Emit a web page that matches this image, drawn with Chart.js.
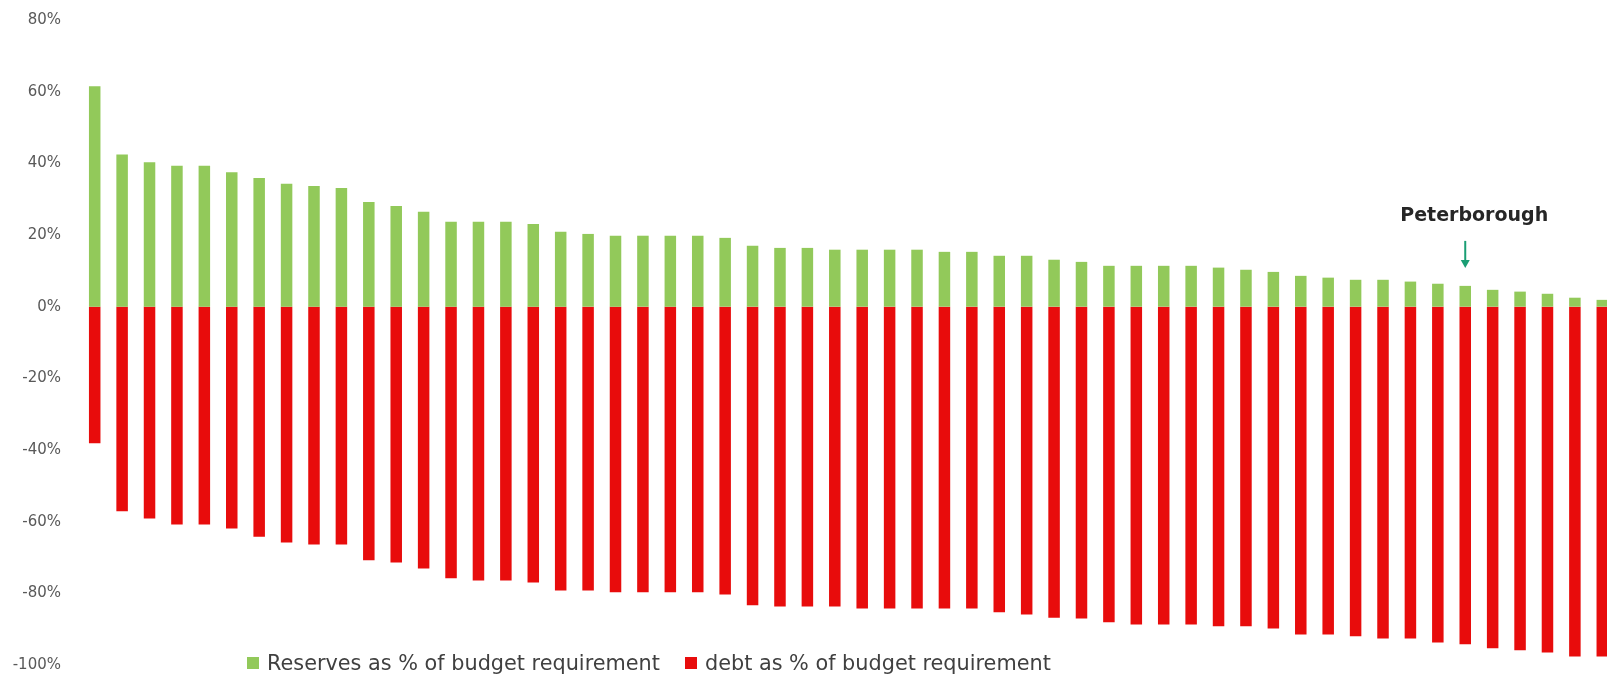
<!DOCTYPE html>
<html>
<head>
<meta charset="utf-8">
<script src="https://cdn.jsdelivr.net/npm/chart.js@4.4.1/dist/chart.umd.min.js"></script>
<style>
  html, body { margin: 0; padding: 0; background: #fff; overflow: hidden; }
  #wrap { position: relative; width: 1616px; height: 677px; }
  #chart { display: block; }
  #legend {
    position: absolute; left: 247px; top: 651px;
    font-family: "DejaVu Sans", sans-serif; font-size: 20.8px; color: #404040;
    display: flex; align-items: center; white-space: nowrap;
  }
  #legend .sw { display: inline-block; width: 12px; height: 12px; margin-right: 8px; }
  #legend .item { display: flex; align-items: center; margin-right: 25px; }
  #callout {
    position: absolute; font-family: "DejaVu Sans", sans-serif; font-weight: bold;
    font-size: 19px; color: #262626; transform: translateX(-50%); white-space: nowrap;
  }
</style>
</head>
<body>
<div id="wrap">
  <canvas id="chart" width="1616" height="677"></canvas>
  <div id="legend">
    <span class="item"><span class="sw" style="background:#92c95a"></span>Reserves as % of budget requirement</span>
    <span class="item"><span class="sw" style="background:#e80c0c"></span>debt as % of budget requirement</span>
  </div>
  <div id="callout">Peterborough</div>
</div>
<script>
/* -------------------------------------------------------
   DATA: reserves and debt, % of budget requirement
   (councils sorted by reserves, highest first)
------------------------------------------------------- */
const reserves = [
  61.5, 42.5, 40.3, 39.3, 39.3, 37.5, 35.9, 34.3, 33.7, 33.1,
  29.2, 28.1, 26.5, 23.7, 23.7, 23.7, 23.1, 20.9, 20.3, 19.8,
  19.8, 19.8, 19.8, 19.2, 17.0, 16.4, 16.4, 15.9, 15.9, 15.9,
  15.9, 15.3, 15.3, 14.2, 14.2, 13.1, 12.5, 11.4, 11.4, 11.4,
  11.4, 10.9, 10.3, 9.7, 8.6, 8.1, 7.5, 7.5, 7.0, 6.4,
  5.8, 4.7, 4.2, 3.6, 2.5, 1.9,
];

const debt = [
  -38.1, -57.1, -59.1, -60.8, -60.8, -61.9, -64.2, -65.8, -66.4, -66.4,
  -70.8, -71.4, -73.1, -75.8, -76.4, -76.4, -77.0, -79.2, -79.2, -79.7,
  -79.7, -79.7, -79.7, -80.3, -83.3, -83.7, -83.7, -83.7, -84.2, -84.2,
  -84.2, -84.2, -84.2, -85.3, -85.9, -86.8, -87.0, -88.1, -88.7, -88.7,
  -88.7, -89.2, -89.2, -89.8, -91.5, -91.5, -92.0, -92.6, -92.6, -93.7,
  -94.2, -95.3, -95.9, -96.5, -97.6, -97.6,
];

const highlightIndex = 50; /* Peterborough */
const councils = reserves.map((_, i) => (i === highlightIndex ? "Peterborough" : "Council " + (i + 1)));

const yTicks = [-100, -80, -60, -40, -20, 0, 20, 40, 60, 80];

/* -------------------------------------------------------
   ARROW above the highlighted council
------------------------------------------------------- */
const arrowPlugin = {
  id: "arrow",
  afterDatasetsDraw(chart) {
    const { ctx, scales } = chart;
    const x = scales.x.getPixelForValue(highlightIndex);
    const top = scales.y.getPixelForValue(reserves[highlightIndex]);
    const y1 = top - 45, y2 = top - 18;
    ctx.save();
    ctx.strokeStyle = "#1a9e74";
    ctx.fillStyle = "#1a9e74";
    ctx.lineWidth = 2;
    ctx.beginPath();
    ctx.moveTo(x, y1);
    ctx.lineTo(x, y2 - 6);
    ctx.stroke();
    ctx.beginPath();
    ctx.moveTo(x - 4.5, y2 - 8);
    ctx.lineTo(x + 4.5, y2 - 8);
    ctx.lineTo(x, y2);
    ctx.closePath();
    ctx.fill();
    ctx.restore();
  },
};

const chart = new Chart(document.getElementById("chart"), {
  type: "bar",
  data: {
    labels: councils,
    datasets: [
      {
        label: "Reserves as % of budget requirement",
        data: reserves,
        backgroundColor: "#92c95a",
      },
      {
        label: "debt as % of budget requirement",
        data: debt,
        backgroundColor: "#e80c0c",
      },
    ],
  },
  options: {
    responsive: false,
    animation: false,
    datasets: { bar: { categoryPercentage: 1, barPercentage: 0.42 } },
    layout: { padding: { top: 20, bottom: 12, left: 0, right: 0 } },
    plugins: {
      legend: { display: false },
      tooltip: { enabled: false },
    },
    scales: {
      x: {
        stacked: true,
        display: false,
      },
      y: {
        stacked: true,
        min: -100,
        max: 80,
        afterBuildTicks: (scale) => {
          scale.ticks = yTicks.map((v) => ({ value: v }));
        },
        afterFit: (scale) => {
          scale.width = 81;
          /* keep tick padding from pushing the plot inward vertically */
          scale.paddingTop = 9;
          scale.paddingBottom = 9;
        },
        grid: { display: false, drawTicks: false },
        border: { display: false },
        ticks: {
          padding: 20,
          color: "#595959",
          font: { family: "'DejaVu Sans', sans-serif", size: 15 },
          callback: (v) => v + "%",
        },
      },
    },
  },
  plugins: [arrowPlugin],
});

/* place the callout text over the highlighted bar */
const callout = document.getElementById("callout");
callout.style.left = chart.scales.x.getPixelForValue(highlightIndex) + 9 + "px";
callout.style.top = chart.scales.y.getPixelForValue(reserves[highlightIndex]) - 83 + "px";
</script>
</body>
</html>
